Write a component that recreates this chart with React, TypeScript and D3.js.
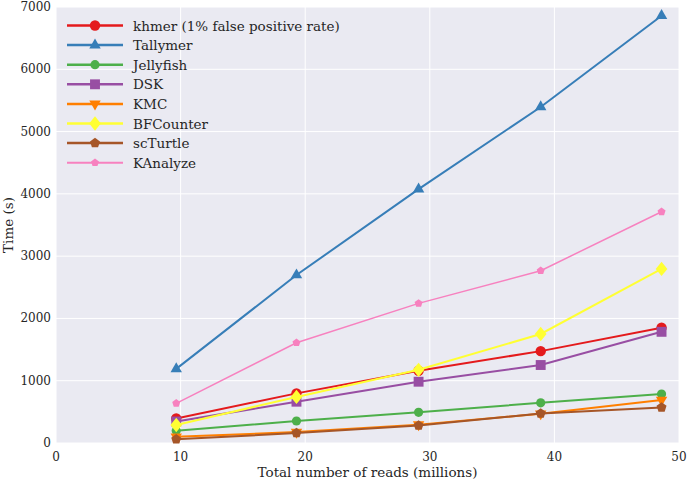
import React from "react";
import * as d3 from "d3";

const xValues = [9.65, 19.3, 29.1, 38.9, 48.6];
const seriesNames = ["khmer (1% false positive rate)", "Tallymer", "Jellyfish", "DSK", "KMC", "BFCounter", "scTurtle", "KAnalyze"];
const khmer = [395, 797, 1160, 1475, 1850];
const tallymer = [1190, 2697, 4075, 5395, 6860];
const jellyfish = [198, 353, 493, 645, 787];
const dsk = [345, 663, 984, 1252, 1785];
const kmc = [100, 175, 295, 470, 690];
const bfcounter = [289, 740, 1175, 1750, 2795];
const scturtle = [59, 160, 280, 475, 570];
const kanalyze = [637, 1610, 2242, 2766, 3713];
const xTicks = [0, 10, 20, 30, 40, 50];
const yTicks = [0, 1000, 2000, 3000, 4000, 5000, 6000, 7000];

const seriesData = [khmer, tallymer, jellyfish, dsk, kmc, bfcounter, scturtle, kanalyze];
const colors = ["#e41a1c", "#377eb8", "#4daf4a", "#984ea3", "#ff7f00", "#ffff33", "#a65628", "#f781bf"];
const markers = ["circle", "triangle", "circle", "square", "triangleDown", "diamond", "pentagon", "pentagon"];
const markerSize = [5.2, 5.5, 4.6, 5.5, 5.5, 6.5, 5, 4];
const lineWidths = [2, 2, 2, 2, 2, 2, 2, 1.5];

const W = 689, H = 483;
const left = 56, right = 679, top = 7, bottom = 443;
const FONT = "'DejaVu Serif', serif";

function markerPath(type: string, r: number): string {
  const pts = (n: number, rad: number, rot: number) =>
    d3.range(n).map((i) => {
      const a = rot + (i * 2 * Math.PI) / n;
      return [rad * Math.cos(a), rad * Math.sin(a)];
    });
  const poly = (p: number[][]) => "M" + p.map((q) => q.join(",")).join("L") + "Z";
  switch (type) {
    case "circle":
      return `M${r},0A${r},${r} 0 1,1 ${-r},0A${r},${r} 0 1,1 ${r},0Z`;
    case "triangle":
      return poly(pts(3, r * 1.2, -Math.PI / 2));
    case "triangleDown":
      return poly(pts(3, r * 1.2, Math.PI / 2));
    case "square":
      return poly([[-r * 0.9, -r * 0.9], [r * 0.9, -r * 0.9], [r * 0.9, r * 0.9], [-r * 0.9, r * 0.9]]);
    case "diamond":
      return poly([[0, -r * 1.1], [r * 0.9, 0], [0, r * 1.1], [-r * 0.9, 0]]);
    case "pentagon":
      return poly(pts(5, r * 1.05, -Math.PI / 2));
    default:
      return "";
  }
}

export default function App() {
  const x = d3.scaleLinear().domain([0, 50]).range([left, right]);
  const y = d3.scaleLinear().domain([0, 7000]).range([bottom, top]);
  const line = d3.line<number>().x((_, i) => x(xValues[i])).y((d) => y(d));

  return (
    <svg width={W} height={H} style={{ position: "absolute", left: 0, top: 0 }} fontFamily={FONT}>
      <rect x={0} y={0} width={W} height={H} fill="#ffffff" />
      <rect x={left} y={top} width={right - left} height={bottom - top} fill="#eaeaf2" />
      {xTicks.map((t) => (
        <line key={"gx" + t} x1={x(t)} x2={x(t)} y1={top} y2={bottom} stroke="#ffffff" strokeWidth={1} />
      ))}
      {yTicks.map((t) => (
        <line key={"gy" + t} x1={left} x2={right} y1={y(t)} y2={y(t)} stroke="#ffffff" strokeWidth={1} />
      ))}
      {xTicks.map((t) => (
        <text key={"tx" + t} x={x(t)} y={bottom + 18} textAnchor="middle" fontSize={12} fill="#262626">{t}</text>
      ))}
      {yTicks.map((t) => (
        <text key={"ty" + t} x={left - 5} y={y(t) + 4} textAnchor="end" fontSize={12} fill="#262626">{t}</text>
      ))}
      <text x={(left + right) / 2} y={477} textAnchor="middle" fontSize={13.5} fill="#262626">Total number of reads (millions)</text>
      <text transform={`translate(13,${(top + bottom) / 2}) rotate(-90)`} textAnchor="middle" fontSize={13.5} fill="#262626">Time (s)</text>
      {seriesData.map((s, k) => (
        <g key={"s" + k}>
          <path d={line(s) || ""} fill="none" stroke={colors[k]} strokeWidth={lineWidths[k]} />
          {s.map((v, i) => (
            <path key={i} d={markerPath(markers[k], markerSize[k])} transform={`translate(${x(xValues[i])},${y(v)})`} fill={colors[k]} />
          ))}
        </g>
      ))}
      {seriesNames.map((n, k) => {
        const ly = 25.5 + k * 19.6;
        return (
          <g key={"l" + k}>
            <line x1={67} x2={123} y1={ly} y2={ly} stroke={colors[k]} strokeWidth={lineWidths[k] + 0.5} />
            <path d={markerPath(markers[k], markerSize[k])} transform={`translate(95,${ly})`} fill={colors[k]} />
            <text x={133} y={ly + 5} fontSize={13.5} fill="#262626">{n}</text>
          </g>
        );
      })}
    </svg>
  );
}
